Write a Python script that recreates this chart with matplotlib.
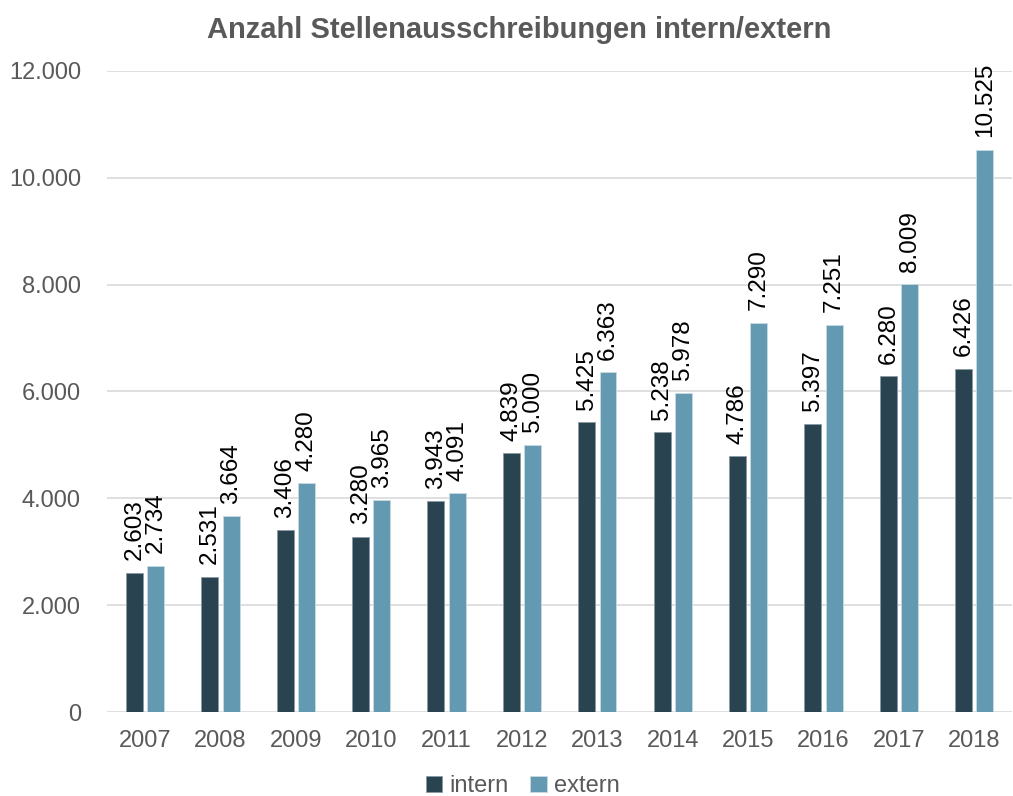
import matplotlib.pyplot as plt
import numpy as np
from matplotlib.ticker import FuncFormatter

plt.rcParams['font.family'] = ['Liberation Sans', 'DejaVu Sans']

years = ['2007', '2008', '2009', '2010', '2011', '2012',
         '2013', '2014', '2015', '2016', '2017', '2018']
intern = [2603, 2531, 3406, 3280, 3943, 4839, 5425, 5238, 4786, 5397, 6280, 6426]
extern = [2734, 3664, 4280, 3965, 4091, 5000, 6363, 5978, 7290, 7251, 8009, 10525]

fig = plt.figure(figsize=(10.13, 7.96), dpi=100)
ax = fig.add_axes([0.106, 0.1055, 0.893, 0.8055])

x = np.arange(len(years))
w = 0.225
off = 0.141
b1 = ax.bar(x - off, intern, w, color='#2a4350', edgecolor='#8a9aa3', linewidth=0.6, label='intern', zorder=3)
b2 = ax.bar(x + off, extern, w, color='#6499b2', edgecolor='#c8dbe4', linewidth=0.6, label='extern', zorder=3)

def de(v, pos=None):
    return f'{int(v):,}'.replace(',', '.')

for bars, vals in ((b1, intern), (b2, extern)):
    ax.bar_label(bars, labels=[de(v) for v in vals], rotation=90, padding=9,
                 fontsize=17.5, color='black')

ax.set_xlim(-0.5, len(years) - 0.5)
ax.set_ylim(0, 12000)
ax.set_yticks(np.arange(0, 12001, 2000))
ax.yaxis.set_major_formatter(FuncFormatter(de))
ax.set_xticks(x)
ax.set_xticklabels(years)
ax.tick_params(axis='both', length=0, labelsize=17, colors='#595959')
ax.tick_params(axis='x', pad=13)
ax.tick_params(axis='y', pad=19)
ax.grid(axis='y', color='#d9d9d9', linewidth=1.2, zorder=0)
for s in ax.spines.values():
    s.set_visible(False)

fig.text(0.513, 0.962, 'Anzahl Stellenausschreibungen intern/extern', fontsize=21,
         fontweight='bold', color='#595959', ha='center', va='center')

fig.legend(loc='center', bbox_to_anchor=(0.516, 0.012), ncol=2, frameon=False,
           fontsize=17, labelcolor='#595959', handlelength=0.7, handleheight=0.7,
           handletextpad=0.3, columnspacing=0.9, borderpad=0, borderaxespad=0)

fig.savefig('out.png', dpi=100)
